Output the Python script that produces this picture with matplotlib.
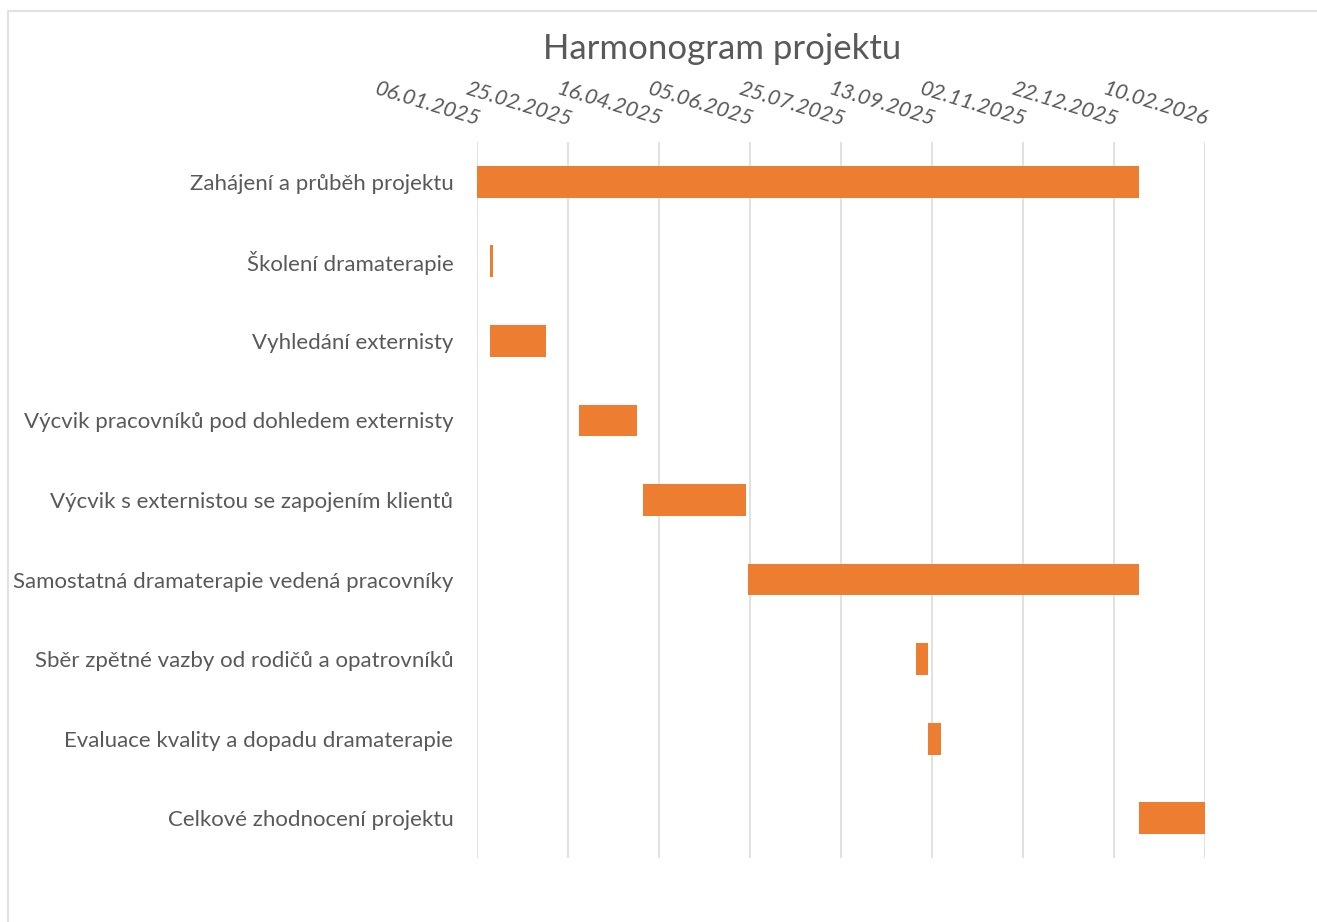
#!/usr/bin/env python3

import matplotlib
matplotlib.use('Agg')
import matplotlib.pyplot as plt
import matplotlib.dates as mdates
from matplotlib.patches import Rectangle
from datetime import datetime

# data
tasks = [
    'Zahájení a průběh projektu',
    'Školení dramaterapie',
    'Vyhledání externisty',
    'Výcvik pracovníků pod dohledem externisty',
    'Výcvik s externistou se zapojením klientů',
    'Samostatná dramaterapie vedená pracovníky',
    'Sběr zpětné vazby od rodičů a opatrovníků',
    'Evaluace kvality a dopadu dramaterapie',
    'Celkové zhodnocení projektu',
]
starts = ['2025-01-06', '2025-01-13', '2025-01-13', '2025-03-03', '2025-04-07',
          '2025-06-04', '2025-09-04', '2025-09-11', '2026-01-05']
durations = [364, 2, 31, 32, 57, 215, 7, 7, 36]
tick_labels = ['06.01.2025', '25.02.2025', '16.04.2025', '05.06.2025', '25.07.2025',
               '13.09.2025', '02.11.2025', '22.12.2025', '10.02.2026']

gray = '#595959'
grid = '#D9D9D9'
orange = '#ED7D31'
font = 'Lato'

W, H = 1317, 922
fig = plt.figure(figsize=(W / 100, H / 100), dpi=100)
ax = fig.add_axes([477 / W, 1 - 858 / H, (1205 - 477) / W, (858 - 142) / H])

start_nums = [mdates.date2num(datetime.strptime(s, '%Y-%m-%d')) for s in starts]
ax.barh(range(len(tasks)), durations, left=start_nums, height=0.4,
        color=orange, zorder=3)

tick_pos = [mdates.date2num(datetime.strptime(t, '%d.%m.%Y')) for t in tick_labels]
ax.set_xlim(tick_pos[0], tick_pos[-1])
ax.set_ylim(len(tasks) - 0.5, -0.5)

ax.xaxis.tick_top()
ax.set_xticks(tick_pos)
ax.set_xticklabels(tick_labels, rotation=-17, rotation_mode='anchor',
                   ha='right', va='bottom', fontstyle='italic',
                   fontsize=15.5, color=gray, family=font)
ax.tick_params(axis='x', length=0, pad=9)
for x in tick_pos:
    ax.axvline(x, color=grid, lw=1.1, zorder=1)

ax.set_yticks(range(len(tasks)))
ax.set_yticklabels(tasks, fontsize=16, color=gray, family=font)
ax.tick_params(axis='y', length=0, pad=17)

for s in ax.spines.values():
    s.set_visible(False)

fig.text(722 / W, 1 - 49 / H, 'Harmonogram projektu', ha='center', va='center',
         fontsize=25, color=gray, family=font)

fig.add_artist(Rectangle((8 / W, -0.05), 1.1, 1.05 - 11 / H,
                         transform=fig.transFigure, fill=False,
                         edgecolor=grid, lw=1.1))

plt.savefig('out.png', dpi=100)
